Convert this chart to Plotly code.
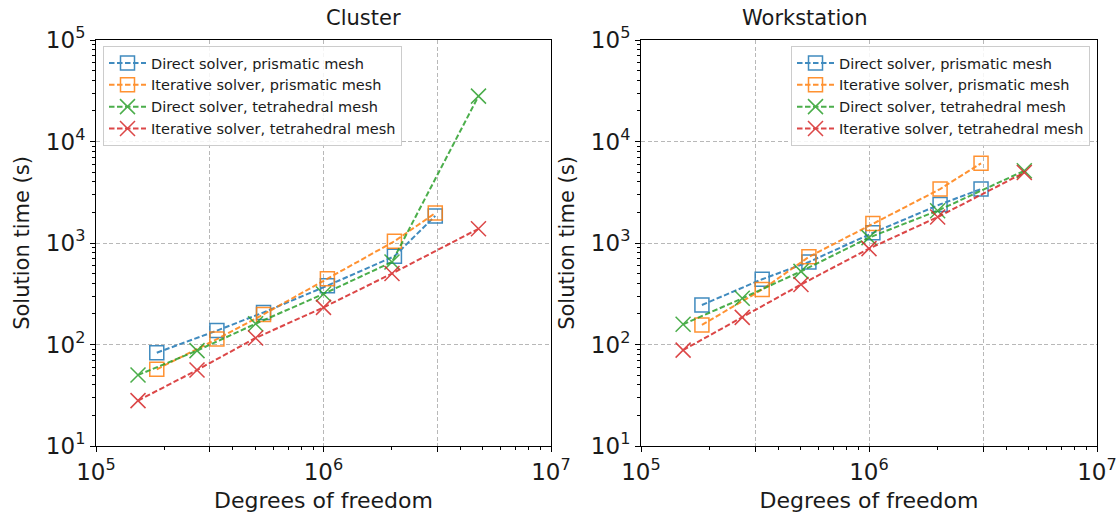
import plotly.graph_objects as go
import numpy as np

# ---- data ----
dof_prism = [1.85e5, 3.4e5, 5.45e5, 1.04e6, 2.05e6, 3.1e6]
dof_tet = [1.53e5, 2.78e5, 5.03e5, 1.0e6, 2.0e6, 4.8e6]

cluster_direct_prism = [83, 137, 207, 380, 740, 1850]
cluster_iter_prism = [57, 113, 198, 445, 1040, 1970]
cluster_direct_tet = [50, 87, 160, 315, 650, 28000]
cluster_iter_tet = [28, 56, 116, 232, 500, 1380]

ws_direct_prism = [245, 440, 650, 1260, 2400, 3400]
ws_iter_prism = [156, 348, 730, 1560, 3400, 6100]
ws_direct_tet = [158, 285, 525, 1130, 2080, 5150]
ws_iter_tet = [88, 185, 390, 880, 1800, 4950]

names = ["Direct solver, prismatic mesh", "Iterative solver, prismatic mesh",
         "Direct solver, tetrahedral mesh", "Iterative solver, tetrahedral mesh"]
colors = ["#1f77b4", "#ff7f0e", "#2ca02c", "#d62728"]
symbols = ["square-open", "square-open", "x-thin-open", "x-thin-open"]

panels = [
    ("x", "y", "legend", [cluster_direct_prism, cluster_iter_prism, cluster_direct_tet, cluster_iter_tet]),
    ("x2", "y2", "legend2", [ws_direct_prism, ws_iter_prism, ws_direct_tet, ws_iter_tet]),
]

fig = go.Figure()
for xa, ya, lg, series in panels:
    for i, ys in enumerate(series):
        xs = dof_prism if i < 2 else dof_tet
        fig.add_trace(go.Scatter(
            x=xs, y=ys, mode="lines+markers", name=names[i],
            xaxis=xa, yaxis=ya, legend=lg, opacity=0.85,
            line=dict(color=colors[i], width=2, dash="5.5px,2.5px"),
            marker=dict(symbol=symbols[i], size=15 if i >= 2 else 14,
                        color=colors[i], line=dict(color=colors[i], width=1.5)),
        ))

FONT = "DejaVu Sans"
TXT = "#1a1a1a"
W, H = 1116, 513

def dom(a, b, total):
    return [a / total, b / total]

major_x = [1e5, 10 ** 5.5, 1e6, 10 ** 6.5, 1e7]
major_x_text = ["10<sup>5</sup>", "", "10<sup>6</sup>", "", "10<sup>7</sup>"]
minor_x = [m * 10 ** e for e in (5, 6) for m in (2, 4, 5, 6, 7, 8, 9)]
major_y = [1e1, 1e2, 1e3, 1e4, 1e5]
major_y_text = ["10<sup>%d</sup>" % k for k in range(1, 6)]
minor_y = [m * 10 ** e for e in (1, 2, 3, 4) for m in range(2, 10)]

common_axis = dict(
    type="log", showline=True, mirror=True, linecolor="black", linewidth=1,
    ticks="outside", ticklen=5, tickwidth=1, tickcolor="black",
    showgrid=True, gridcolor="#b8b8b8", griddash="4px,2.5px", gridwidth=1,
    zeroline=False, automargin=False, ticklabeloverflow="allow",
    tickfont=dict(family=FONT, size=23, color=TXT),
)

xdoms = [dom(96, 551, W), dom(641, 1097, W)]
ydom = [1 - 446 / H, 1 - 40 / H]

for k, (xa, ya) in enumerate([("xaxis", "yaxis"), ("xaxis2", "yaxis2")]):
    xkey_anchor = "y" if k == 0 else "y2"
    ykey_anchor = "x" if k == 0 else "x2"
    fig.layout[xa] = dict(
        common_axis, domain=xdoms[k], anchor=xkey_anchor,
        range=[5, 7], tickmode="array", tickvals=major_x, ticktext=major_x_text,
        minor=dict(tickmode="array", tickvals=minor_x, ticks="outside", ticklen=3,
                   tickcolor="black", showgrid=False),
        title=dict(text="Degrees of freedom", font=dict(family=FONT, size=22, color=TXT), standoff=9),
    )
    fig.layout[ya] = dict(
        common_axis, domain=ydom, anchor=ykey_anchor,
        range=[1, 5], tickmode="array", tickvals=major_y, ticktext=major_y_text,
        minor=dict(tickmode="array", tickvals=minor_y, ticks="outside", ticklen=3,
                   tickcolor="black", showgrid=False),
        title=dict(text="Solution time (s)", font=dict(family=FONT, size=21, color=TXT), standoff=10),
    )

legend_common = dict(
    font=dict(family=FONT, size=14.5, color=TXT),
    bgcolor="rgba(255,255,255,0.85)", bordercolor="#cccccc", borderwidth=1,
    yanchor="top", y=1 - 46 / H, tracegroupgap=0, itemwidth=37,
)
fig.update_layout(
    width=W, height=H, margin=dict(l=0, r=0, t=0, b=0),
    paper_bgcolor="white", plot_bgcolor="white",
    font=dict(family=FONT, color=TXT),
    legend=dict(legend_common, x=103 / W, xanchor="left"),
    legend2=dict(legend_common, x=1090 / W, xanchor="right"),
    annotations=[
        dict(text="Cluster", x=(96 + 551) / 2 / W, y=1 - 18 / H, xref="paper", yref="paper",
             showarrow=False, font=dict(family=FONT, size=21, color=TXT), yanchor="middle"),
        dict(text="Workstation", x=(641 + 1097) / 2 / W, y=1 - 18 / H, xref="paper", yref="paper",
             showarrow=False, font=dict(family=FONT, size=21, color=TXT), yanchor="middle"),
    ],
)

fig.write_html("out.html")
